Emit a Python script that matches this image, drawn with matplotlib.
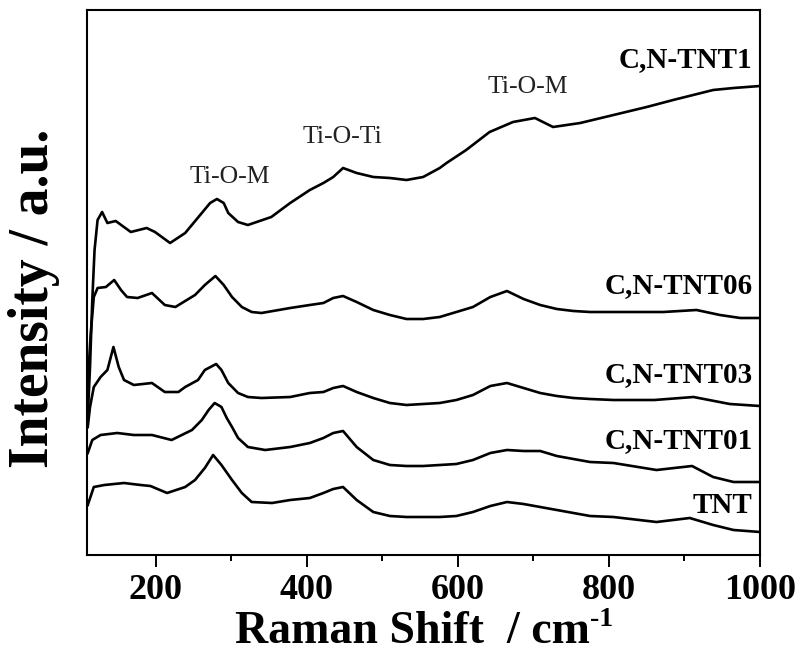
import matplotlib
matplotlib.use("Agg")
import matplotlib.pyplot as plt
from matplotlib.ticker import MultipleLocator

plt.rcParams["font.family"] = ["Liberation Serif", "DejaVu Serif"]

# Raman shift (cm-1) and stacked intensities (a.u., offset per sample)
tnt1_x = [110, 113, 116, 119, 123, 129, 136, 147, 167, 188, 199, 219, 239, 261, 272,
          281, 290, 296, 309, 322, 353, 378, 388, 404, 422, 435, 448, 466, 488, 510,
          532, 554, 576, 585, 611, 642, 673, 702, 726, 762, 806, 850, 885, 938, 965, 1000]
tnt1_y = [138, 188, 255, 305, 335, 343, 332, 334, 323, 327, 323, 312, 322, 342, 352,
          356, 352, 342, 333, 330, 338, 352, 357, 365, 372, 378, 387, 382, 378, 377,
          375, 378, 387, 392, 405, 423, 433, 437, 428, 432, 440, 448, 455, 465, 467, 469]

tnt06_x = [110, 114, 118, 123, 134, 145, 154, 162, 176, 195, 212, 226, 252, 265, 279,
           290, 301, 314, 327, 340, 378, 404, 422, 435, 448, 466, 488, 510, 532, 554,
           576, 598, 620, 643, 665, 687, 709, 731, 753, 775, 872, 916, 947, 974, 1000]
tnt06_y = [172, 222, 258, 267, 268, 275, 265, 258, 257, 262, 250, 248, 260, 270, 279,
           270, 258, 248, 243, 242, 247, 250, 252, 257, 259, 253, 245, 240, 236, 236,
           238, 243, 248, 258, 264, 256, 250, 246, 244, 243, 243, 245, 240, 237, 237]

tnt03_x = [110, 113, 118, 127, 136, 144, 151, 158, 171, 195, 212, 230, 239, 256, 265,
           280, 287, 296, 309, 322, 340, 378, 404, 422, 435, 448, 466, 488, 510, 532,
           554, 576, 598, 620, 643, 665, 687, 709, 731, 753, 775, 806, 860, 912, 960, 1000]
tnt03_y = [128, 148, 168, 178, 185, 208, 188, 175, 170, 172, 163, 163, 168, 175, 185,
           191, 185, 172, 162, 158, 157, 158, 162, 163, 167, 169, 163, 157, 152, 150,
           151, 152, 155, 160, 169, 172, 167, 162, 159, 157, 156, 155, 155, 158, 151, 149]

tnt01_x = [110, 116, 127, 149, 171, 195, 221, 248, 261, 270, 278, 287, 294, 301, 309,
           322, 345, 378, 404, 422, 435, 448, 466, 488, 510, 532, 554, 576, 598, 620,
           643, 665, 687, 709, 731, 753, 775, 806, 863, 910, 938, 965, 1000]
tnt01_y = [102, 115, 120, 122, 120, 120, 115, 125, 135, 145, 152, 148, 137, 128, 117,
           108, 105, 108, 112, 117, 122, 124, 108, 95, 90, 89, 89, 90, 91, 95,
           102, 105, 104, 104, 99, 96, 93, 92, 85, 89, 78, 73, 73]

tnt_x = [110, 118, 132, 158, 180, 193, 215, 239, 252, 265, 276, 287, 301, 314, 327,
         354, 378, 404, 422, 435, 448, 466, 488, 510, 532, 554, 576, 598, 620, 643,
         665, 687, 709, 731, 753, 775, 806, 863, 907, 938, 965, 1000]
tnt_y = [50, 68, 70, 72, 70, 69, 62, 68, 75, 87, 100, 90, 75, 62, 53,
         52, 55, 57, 62, 66, 68, 55, 43, 39, 38, 38, 38, 39, 43, 49,
         53, 51, 48, 45, 42, 39, 38, 33, 37, 30, 25, 23]

series_x = [tnt1_x, tnt06_x, tnt03_x, tnt01_x, tnt_x]
series_y = [tnt1_y, tnt06_y, tnt03_y, tnt01_y, tnt_y]
sample_names = ["C,N-TNT1", "C,N-TNT06", "C,N-TNT03", "C,N-TNT01", "TNT"]
sample_label_y = [488, 262, 173, 107, 42]

band_names = ["Ti-O-M", "Ti-O-Ti", "Ti-O-M"]
band_x = [298, 447, 692]
band_y = [372, 412, 462]

xticks = [200, 400, 600, 800, 1000]

fig = plt.figure(figsize=(8.0, 6.54), dpi=100)
ax = fig.add_axes([87 / 800, 99 / 654, 673 / 800, 545 / 654])

for xs, ys in zip(series_x, series_y):
    ax.plot(xs, ys, color="black", lw=1.9, solid_joinstyle="round")

for name, yv in zip(sample_names, sample_label_y):
    ax.text(990, yv, name, ha="right", va="baseline", fontsize=21,
            fontweight="bold", color="black")

for name, xv, yv in zip(band_names, band_x, band_y):
    ax.text(xv, yv, name, ha="center", va="baseline", fontsize=18.5,
            color="#222222")

ax.set_xlim(109, 1000)
ax.set_ylim(0, 545)
ax.set_xticks(xticks)
ax.set_xticklabels([str(t) for t in xticks])
ax.xaxis.set_minor_locator(MultipleLocator(100))
ax.set_yticks([])
ax.tick_params(axis="x", which="major", direction="out", length=8.5, width=1.4,
               labelsize=26, pad=5, top=False)
ax.tick_params(axis="x", which="minor", direction="out", length=4.5, width=1.4,
               top=False)
for lab in ax.get_xticklabels():
    lab.set_fontweight("bold")
for sp in ax.spines.values():
    sp.set_linewidth(1.5)

# x-axis title: main text plus a raised "-1" exponent placed after it
xlab = fig.text(412 / 800, 1 / 654, "Raman Shift  / cm", ha="center",
                va="bottom", fontsize=33, fontweight="bold")
fig.canvas.draw()
bb = xlab.get_window_extent(renderer=fig.canvas.get_renderer())
fig.text(bb.x1 / 800 + 1 / 800, (bb.y0 + 27) / 654, "-1", ha="left",
         va="baseline", fontsize=20, fontweight="bold")

fig.text(48 / 800, 1 - 298 / 654, "Intensity / a.u.", rotation=90,
         rotation_mode="anchor", ha="center", va="baseline", fontsize=40,
         fontweight="bold")

fig.savefig("out.png", dpi=100)
